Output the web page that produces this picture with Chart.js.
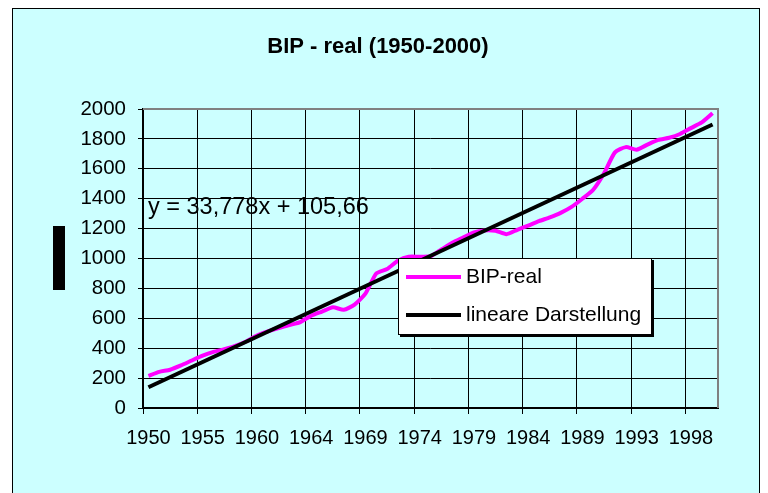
<!DOCTYPE html>
<html>
<head>
<meta charset="utf-8">
<script src="https://cdn.jsdelivr.net/npm/chart.js@4/dist/chart.umd.min.js"></script>
<style>
  html, body { margin: 0; padding: 0; background: #ffffff; }
  #wrap { position: absolute; left: 0; top: 0; width: 768px; height: 493px; }
</style>
</head>
<body>
<div id="wrap"><canvas id="c" width="768" height="493"></canvas></div>
<script>
// ---- data ----
const chartTitle = 'BIP - real (1950-2000)';
const years = [
  '1950','1951','1952','1953','1954','1955','1956','1957','1958','1959',
  '1960','1960','1961','1962','1963','1964','1965','1966','1967','1968',
  '1969','1970','1971','1972','1973','1974','1975','1976','1977','1978',
  '1979','1980','1981','1982','1983','1984','1985','1986','1987','1988',
  '1989','1990','1991','1991','1992','1993','1994','1995','1996','1997',
  '1998','1999','2000'
];
const bipReal = [
  215, 242, 256, 285, 318, 350, 375, 393, 415, 445,
  485, 512, 535, 555, 575, 617, 645, 674, 657, 692,
  765, 900, 930, 985, 1012, 1012, 1015, 1060, 1105, 1140,
  1175, 1188, 1185, 1163, 1192, 1220, 1250, 1275, 1305, 1345,
  1400, 1460, 1570, 1710, 1745, 1728, 1762, 1793, 1808, 1833,
  1872, 1910, 1972
];
const trendEnds = [139, 1896];           // linear trend at first / last category
const trendEquation = 'y = 33,778x + 105,66';
const seriesNames = ['BIP-real', 'lineare Darstellung'];
const yTicks = { min: 0, max: 2000, step: 200 };
const labelEvery = 5;

const trendData = years.map((_, i) => i === 0 ? trendEnds[0] : (i === years.length - 1 ? trendEnds[1] : null));

const FONT = '"Liberation Sans", Arial, sans-serif';
const CYAN = '#CCFFFF';

const decor = {
  id: 'decor',
  beforeDraw(chart) {
    const ctx = chart.ctx;
    ctx.save();
    ctx.fillStyle = '#ffffff';
    ctx.fillRect(0, 0, chart.width, chart.height);
    ctx.fillStyle = CYAN;
    ctx.fillRect(12, 8, 748, 490);
    ctx.strokeStyle = '#000';
    ctx.lineWidth = 1;
    ctx.strokeRect(12.5, 8.5, 747, 490);
    // black block at left (axis title placeholder)
    ctx.fillStyle = '#000';
    ctx.fillRect(53, 226, 12, 64);
    ctx.restore();
  },
  beforeDatasetsDraw(chart) {
    const ctx = chart.ctx, a = chart.chartArea;
    ctx.save();
    ctx.strokeStyle = '#808080';
    ctx.lineWidth = 2;
    ctx.beginPath();
    ctx.moveTo(a.left, a.top);
    ctx.lineTo(a.right, a.top);
    ctx.lineTo(a.right, a.bottom);
    ctx.stroke();
    ctx.restore();
  },
  afterDraw(chart) {
    const ctx = chart.ctx;
    ctx.save();
    // title
    ctx.fillStyle = '#000';
    ctx.font = 'bold 22px ' + FONT;
    ctx.textAlign = 'center';
    ctx.textBaseline = 'alphabetic';
    ctx.fillText(chartTitle, 378, 53);
    // trend equation
    ctx.font = '23.5px ' + FONT;
    ctx.textAlign = 'left';
    ctx.fillText(trendEquation, 148, 214);
    // legend
    const lx = 398, ly = 258, lw = 254, lh = 77;
    ctx.fillStyle = '#000';
    ctx.fillRect(lx + 2, ly + 2, lw, lh);
    ctx.fillStyle = '#fff';
    ctx.fillRect(lx, ly, lw, lh);
    ctx.strokeStyle = '#000';
    ctx.lineWidth = 1;
    ctx.strokeRect(lx + 0.5, ly + 0.5, lw - 1, lh - 1);
    const ds = chart.data.datasets;
    const order = [1, 0];
    const rows = [277, 315];
    order.forEach((di, r) => {
      const d = ds[di];
      ctx.strokeStyle = d.borderColor;
      ctx.lineWidth = 4;
      ctx.beginPath();
      ctx.moveTo(406, rows[r]);
      ctx.lineTo(461, rows[r]);
      ctx.stroke();
      ctx.fillStyle = '#000';
      ctx.font = '21px ' + FONT;
      ctx.textAlign = 'left';
      ctx.textBaseline = 'middle';
      ctx.fillText(d.label, 466, rows[r]);
    });
    ctx.restore();
  }
};

new Chart(document.getElementById('c'), {
  type: 'line',
  data: {
    labels: years,
    datasets: [
      {
        label: seriesNames[1],
        data: trendData,
        borderColor: '#000000',
        borderWidth: 4,
        pointRadius: 0,
        spanGaps: true,
        tension: 0,
        order: 0
      },
      {
        label: seriesNames[0],
        data: bipReal,
        borderColor: '#FF00FF',
        borderWidth: 4,
        pointRadius: 0,
        tension: 0.2,
        order: 1
      }
    ]
  },
  options: {
    responsive: false,
    animation: false,
    devicePixelRatio: 1,
    layout: { padding: { top: 109, right: 50, bottom: 0, left: 0 } },
    plugins: {
      legend: { display: false },
      title: { display: false },
      tooltip: { enabled: false }
    },
    scales: {
      x: {
        type: 'category',
        offset: true,
        afterFit(s) { s.height = 85; },
        grid: {
          offset: true,
          drawOnChartArea: true,
          color: (c) => (c.index % labelEvery === 0 ? '#000' : 'rgba(0,0,0,0)'),
          tickColor: (c) => (c.index % labelEvery === 0 ? '#000' : 'rgba(0,0,0,0)'),
          lineWidth: 1,
          tickLength: 6
        },
        border: { color: '#000', width: 2 },
        ticks: {
          autoSkip: false,
          maxRotation: 0,
          minRotation: 0,
          padding: 12,
          color: '#000',
          font: { family: FONT, size: 20 },
          callback(v, i) { return i % labelEvery === 0 ? this.getLabelForValue(v) : ''; }
        }
      },
      y: {
        min: yTicks.min,
        max: yTicks.max,
        afterFit(s) { s.width = 143; },
        grid: { color: '#000', lineWidth: 1, tickLength: 5, tickColor: '#000' },
        border: { color: '#000', width: 1.5 },
        ticks: {
          stepSize: yTicks.step,
          padding: 12,
          color: '#000',
          font: { family: FONT, size: 20.5 },
          callback(v) { return String(v); }
        }
      }
    }
  },
  plugins: [decor]
});
</script>
</body>
</html>
